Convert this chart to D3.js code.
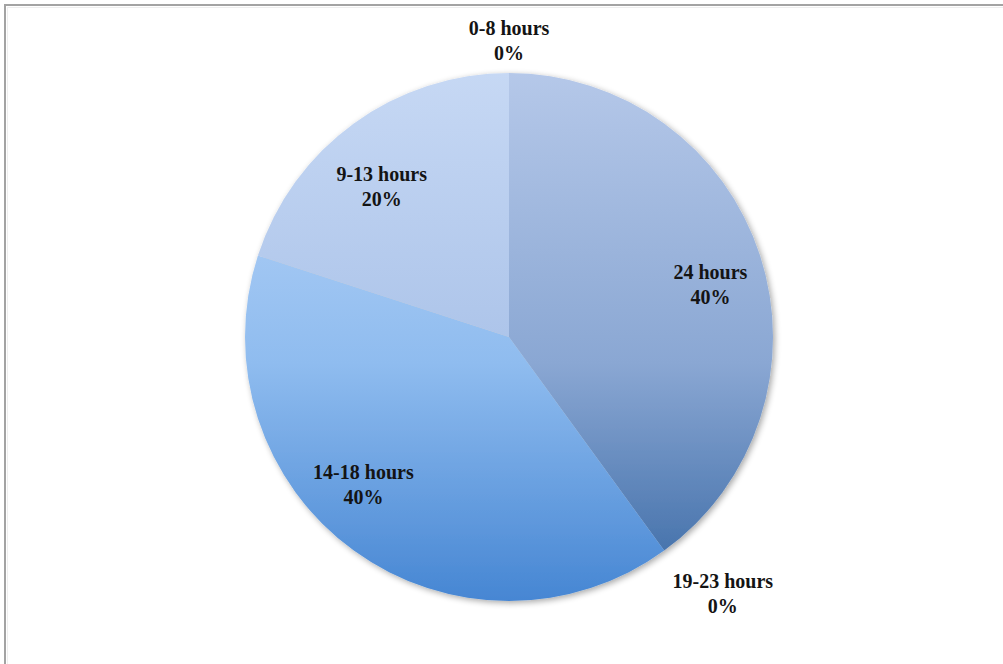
<!DOCTYPE html>
<html>
<head>
<meta charset="utf-8">
<script src="https://cdn.jsdelivr.net/npm/d3@7"></script>
<style>
  html, body { margin: 0; padding: 0; background: #fff; }
  svg { display: block; }
</style>
</head>
<body>
<svg id="chart" width="1003" height="664"></svg>
<script>
// Hours per day category shares (clockwise from 12 o'clock)
const categories = ["24 hours", "19-23 hours", "14-18 hours", "9-13 hours", "0-8 hours"];
const shares = [40, 0, 40, 20, 0];
const percentLabels = ["40%", "0%", "40%", "20%", "0%"];

// Gradient stops per slice: [top, middle, bottom] of the pie's vertical span
const sliceColors = [
  ["#b5c8e9", "#8aa7d3", "#3767a3"],
  ["#3a6ca8", "#3a6ca8", "#2f5f98"],
  ["#bfd8f9", "#8fbcef", "#4686d3"],
  ["#c6d8f4", "#abc3e9", "#8eaedd"],
  ["#c4d7f3", "#a9c2e8", "#a9c2e8"]
];

const width = 1003, height = 664;
const cx = 509, cy = 337, R = 264;

const svg = d3.select("#chart");

// Frame
svg.append("rect")
  .attr("x", 5).attr("y", 5)
  .attr("width", width + 10).attr("height", height + 10)
  .attr("fill", "none")
  .attr("stroke", "#a3a3a3")
  .attr("stroke-width", 2);
svg.append("rect")
  .attr("x", 7.5).attr("y", 7.5)
  .attr("width", width + 10).attr("height", height + 10)
  .attr("fill", "none")
  .attr("stroke", "#eeeeee")
  .attr("stroke-width", 1);

const defs = svg.append("defs");

// Soft shadow under the pie
const shadow = defs.append("filter").attr("id", "pieShadow")
  .attr("x", "-10%").attr("y", "-10%").attr("width", "120%").attr("height", "120%");
shadow.append("feGaussianBlur").attr("in", "SourceAlpha").attr("stdDeviation", 3).attr("result", "blur");
shadow.append("feOffset").attr("in", "blur").attr("dx", 1.5).attr("dy", 2).attr("result", "off");
shadow.append("feComponentTransfer").attr("in", "off").attr("result", "shade")
  .append("feFuncA").attr("type", "linear").attr("slope", 0.35);
const merge = shadow.append("feMerge");
merge.append("feMergeNode").attr("in", "shade");
merge.append("feMergeNode").attr("in", "SourceGraphic");

// Gradients are in the pie group's coordinates (origin at the pie centre)
sliceColors.forEach((c, i) => {
  const g = defs.append("linearGradient")
    .attr("id", "grad" + i)
    .attr("gradientUnits", "userSpaceOnUse")
    .attr("x1", 0).attr("y1", -R)
    .attr("x2", 0).attr("y2", R);
  g.append("stop").attr("offset", "0%").attr("stop-color", c[0]);
  g.append("stop").attr("offset", "55%").attr("stop-color", c[1]);
  g.append("stop").attr("offset", "100%").attr("stop-color", c[2]);
});

const data = categories.map((name, i) => ({ name, value: shares[i], label: percentLabels[i], i }));

const pie = d3.pie().value(d => d.value).sort(null);
const arcs = pie(data);
const arc = d3.arc().innerRadius(0).outerRadius(R);

const gPie = svg.append("g")
  .attr("transform", `translate(${cx},${cy})`)
  .attr("filter", "url(#pieShadow)");

gPie.selectAll("path")
  .data(arcs.filter(d => d.value > 0))
  .join("path")
  .attr("d", arc)
  .attr("fill", d => `url(#grad${d.data.i})`);

// Label placement: radius factor and angular nudge (degrees) per category
const labelPlacement = {
  "24 hours":    { r: 0.79, da: 3,   dy: 0 },
  "19-23 hours": { r: 1.26, da: -4,  dy: 0 },
  "14-18 hours": { r: 0.78, da: 9,   dy: 0 },
  "9-13 hours":  { r: 0.75, da: -4,  dy: 0 },
  "0-8 hours":   { r: 1.13, da: 0,   dy: 0 }
};

const gLabels = svg.append("g").attr("transform", `translate(${cx},${cy})`);
arcs.forEach(d => {
  const p = labelPlacement[d.data.name];
  const mid = (d.startAngle + d.endAngle) / 2 + p.da * Math.PI / 180;
  const x = Math.sin(mid) * R * p.r;
  const y = -Math.cos(mid) * R * p.r + p.dy;
  const t = gLabels.append("text")
    .attr("x", x).attr("y", y)
    .attr("text-anchor", "middle")
    .attr("font-family", "'Liberation Serif', 'Times New Roman', serif")
    .attr("font-weight", "bold")
    .attr("font-size", 20)
    .attr("fill", "#141414");
  t.append("tspan").attr("x", x).attr("dy", "-0.2em").text(d.data.name);
  t.append("tspan").attr("x", x).attr("dy", "1.25em").text(d.data.label);
});
</script>
</body>
</html>
